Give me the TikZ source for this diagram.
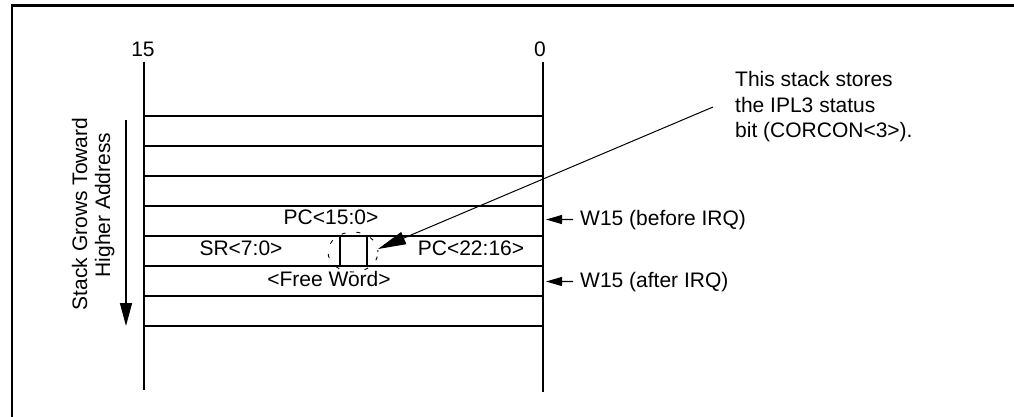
\documentclass[tikz,border=0pt]{standalone}
\usepackage{fontspec}
\setmainfont{Liberation Sans}
\usetikzlibrary{arrows.meta}
\begin{document}
\begin{tikzpicture}[x=1pt,y=-1pt,
  frame/.style={line width=2.5pt},
  stackline/.style={line width=1.6pt},
  lbl/.style={font=\fontsize{21}{25}\selectfont, inner sep=0pt},
  ptr/.style={line width=1.2pt,-{Triangle[length=16pt,width=9pt]}},
  growarrow/.style={line width=1.5pt,-{Triangle[length=23pt,width=12pt]}},
  leader/.style={line width=1pt,-{Triangle[length=28pt,width=13pt]}},
  dashring/.style={line width=0.9pt,dash pattern=on 4pt off 11pt, dash phase=2pt}]
\useasboundingbox (0,0) rectangle (1014,417);
% outer frame
\draw[frame] (12,417) -- (12,5.5) -- (1014,5.5);
% bit labels
\node[lbl, anchor=base] (b15) at (143,57) {15};
\node[lbl, anchor=base] (b0) at (540,57) {0};
% stack columns
\draw[stackline] (144,62) -- (144,390);
\draw[stackline] (543,62) -- (543,392);
\foreach \yy in {116,146,176,206,236,266,296,326}
  \draw[stackline] (144,\yy) -- (543,\yy);
% small IPL3 box
\draw[stackline] (340,236) -- (340,266);
\draw[stackline] (367,236) -- (367,266);
\draw[dashring] (353,252) ellipse [x radius=25pt, y radius=20pt];
% row contents
\node[lbl, anchor=base] (pc15) at (331,224) {PC<15:0>};
\node[lbl, anchor=base] (sr) at (241,255) {SR<7:0>};
\node[lbl, anchor=base] (pc22) at (471,255) {PC<22:16>};
\node[lbl, anchor=base] (free) at (329,286) {<Free Word>};
% growth direction
\node[lbl, rotate=90, anchor=base] (grow1) at (87,214) {Stack Grows Toward};
\node[lbl, rotate=90, anchor=base] (grow2) at (110,205) {Higher Address};
\coordinate (g1) at (126,120);
\coordinate (g2) at (126,326);
\draw[growarrow] (g1) -- (g2);
% W15 pointers
\node[lbl, anchor=base west] (w15b) at (580,225) {W15 (before IRQ)};
\node[lbl, anchor=base west] (w15a) at (580,287) {W15 (after IRQ)};
\coordinate (sp1) at (546,219.5);
\coordinate (sp2) at (546,281.5);
\draw[ptr] ([xshift=-7pt]w15b.west) -- (sp1);
\draw[ptr] ([xshift=-7pt]w15a.west) -- (sp2);
% note
\node[lbl, anchor=base west] (note1) at (735,87) {This stack stores};
\node[lbl, anchor=base west] (note2) at (735,112.5) {the IPL3 status};
\node[lbl, anchor=base west] (note3) at (735,138) {bit (CORCON<3>).};
\coordinate (leadtail) at (713,107);
\coordinate (leadtip) at (378,249);
\draw[leader] (leadtail) -- (leadtip);
\end{tikzpicture}
\end{document}
